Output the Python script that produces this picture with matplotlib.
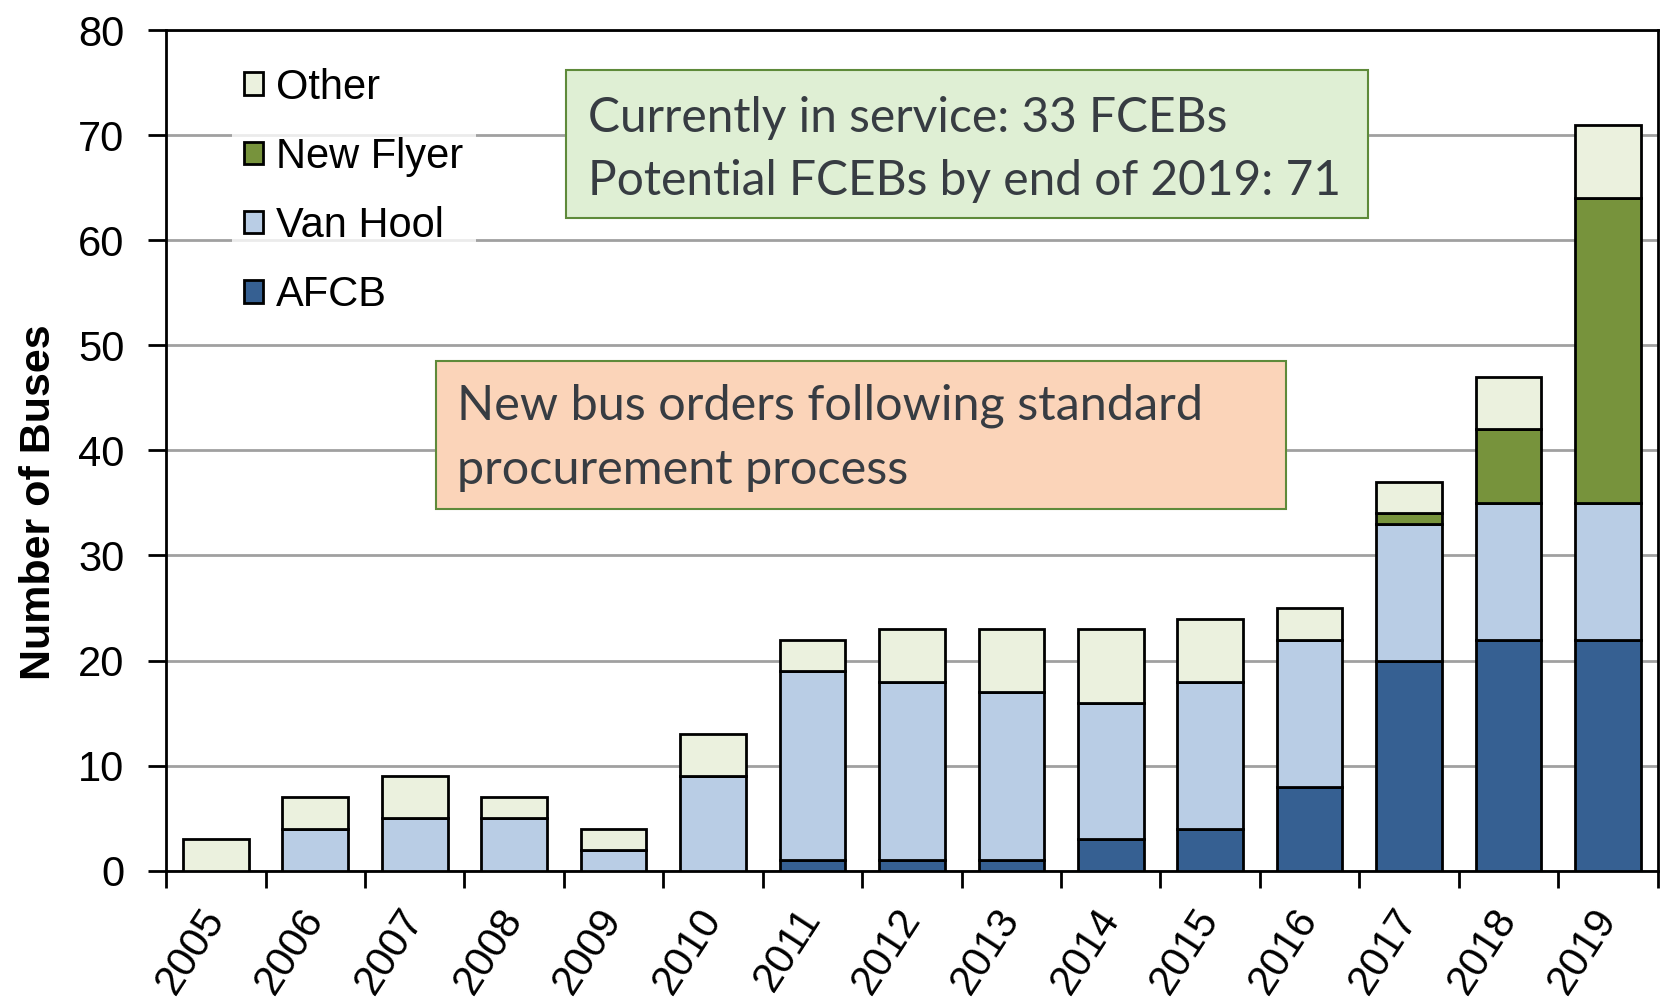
import matplotlib as mpl
import matplotlib.pyplot as plt
import numpy as np
from matplotlib.patches import Patch, Rectangle

mpl.rcParams.update({
    "font.family": ["Liberation Sans", "DejaVu Sans"],
    "font.size": 30,
})

years = [str(y) for y in range(2005, 2020)]
afcb      = [0, 0, 0, 0, 0, 0, 1, 1, 1, 3, 4, 8, 20, 22, 22]
van_hool  = [0, 4, 5, 5, 2, 9, 18, 17, 16, 13, 14, 14, 13, 13, 13]
new_flyer = [0, 0, 0, 0, 0, 0, 0, 0, 0, 0, 0, 0, 1, 7, 29]
other     = [3, 3, 4, 2, 2, 4, 3, 5, 6, 7, 6, 3, 3, 5, 7]

series = [("AFCB", afcb, "#366092"),
          ("Van Hool", van_hool, "#b9cde5"),
          ("New Flyer", new_flyer, "#77933c"),
          ("Other", other, "#ebf1de")]

fig = plt.figure(figsize=(16.61, 10.02), dpi=100)
ax = fig.add_axes([0.1, 0.131, 0.898, 0.839])

x = np.arange(len(years))
bottom = np.zeros(len(years))
for name, vals, col in series:
    v = np.array(vals, dtype=float)
    ax.bar(x, v, 0.66, bottom=bottom, color=col, edgecolor="black",
           linewidth=2, zorder=3)
    bottom += v

ax.set_xlim(-0.5, len(years) - 0.5)
ax.set_ylim(0, 80)
ax.set_yticks(range(0, 81, 10))
ax.yaxis.grid(True, color="#a0a0a0", lw=2, zorder=0)
ax.set_xticks(x)
ax.set_xticklabels(years, rotation=57, ha="right", va="center",
                   rotation_mode="anchor")
ax.set_xticks(np.arange(-0.5, len(years)), minor=True)
ax.tick_params(axis="x", which="major", length=0, pad=30)
ax.tick_params(axis="x", which="minor", length=12, width=2, direction="out")
ax.tick_params(axis="y", length=13, width=2, direction="out", pad=17)
for sp in ax.spines.values():
    sp.set_linewidth(2)
fig.text(39 / 1661, 1 - 502 / 1002, "Number of Buses", rotation=90,
         fontsize=31, fontweight="bold", ha="center", va="center")

handles = [Patch(facecolor=c, edgecolor="black", linewidth=2, label=n)
           for n, _, c in series[::-1]]
leg = ax.legend(handles=handles, loc="upper left", bbox_to_anchor=(0.03, 0.995),
                frameon=True, fancybox=False, edgecolor="white",
                handlelength=0.46, handleheight=0.46, handletextpad=0.3,
                labelspacing=0.7, borderpad=0.3, fontsize=30)
leg.get_frame().set_linewidth(0)
leg.set_zorder(4)

# annotation boxes (axes fraction coordinates)
ax.add_patch(Rectangle((0.268, 0.776), 0.538, 0.176, transform=ax.transAxes,
                       fc="#dfefd4", ec="#5e8a3a", lw=1.5, zorder=5))
ax.text(0.283, 0.858, "Currently in service: 33 FCEBs\nPotential FCEBs by end of 2019: 71",
        transform=ax.transAxes, family="Lato", fontsize=34.5, color="#373c42",
        va="center", ha="left", linespacing=1.55, zorder=6)
ax.add_patch(Rectangle((0.181, 0.430), 0.570, 0.176, transform=ax.transAxes,
                       fc="#fbd4b9", ec="#5e8a3a", lw=1.5, zorder=5))
ax.text(0.195, 0.515, "New bus orders following standard\nprocurement process",
        transform=ax.transAxes, family="Lato", fontsize=35, color="#373c42",
        va="center", ha="left", linespacing=1.55, zorder=6)

fig.savefig("out.png", dpi=100)
